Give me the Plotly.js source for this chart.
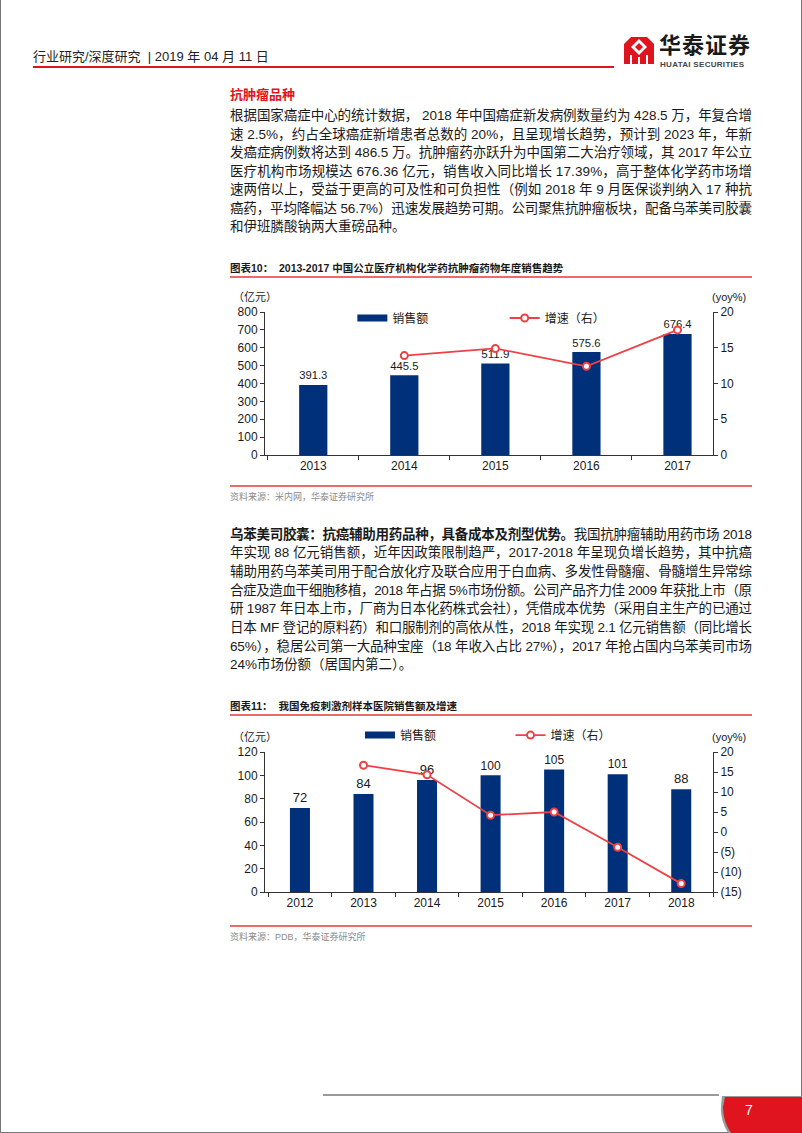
<!DOCTYPE html>
<html><head><meta charset="utf-8">
<script src="https://cdn.plot.ly/plotly-3.0.1.min.js"></script>
<style>
html,body{margin:0;padding:0;background:#fff;}
#page{position:relative;width:802px;height:1133px;overflow:hidden;font-family:"Liberation Sans","Noto Sans CJK SC",sans-serif;color:#1a1a1a;}
.abs{position:absolute;white-space:nowrap;}
.ln{position:absolute;left:230px;font-size:13.5px;height:19px;line-height:19px;white-space:nowrap;display:inline-block;}
.ctitle{position:absolute;left:230px;font-size:10.5px;font-weight:bold;white-space:nowrap;line-height:14px;}
.rl{position:absolute;left:230px;width:522px;height:2px;background:#EC6A6A;}
.src{position:absolute;left:230px;font-size:9px;color:#8a8a8a;white-space:nowrap;line-height:12px;}
.chart{position:absolute;left:200px;width:580px;height:210px;}
</style></head>
<body>
<div id="page">
  <!-- page frame -->
  <div class="abs" style="left:0;top:0;width:1px;height:1133px;background:#777;"></div>
  <div class="abs" style="left:801px;top:0;width:1px;height:1133px;background:#777;"></div>
  <div class="abs" style="left:0;top:1132px;width:802px;height:1px;background:#777;"></div>

  <!-- header -->
  <div class="abs" style="left:33px;top:49px;font-size:13px;line-height:16px;color:#222;">行业研究/深度研究 &nbsp;| 2019 年 04 月 11 日</div>
  <div class="abs" style="left:33px;top:66px;width:581px;height:2px;background:#E0141E;"></div>
  <svg class="abs" style="left:622px;top:36px;" width="36" height="30" viewBox="0 0 36 30">
    <rect x="2" y="1" width="30" height="27" fill="#E0141E"/>
    <polygon points="17,3 25,11 17,19 9,11" fill="#fff"/>
    <polygon points="17,7 21,11 17,15 13,11" fill="#E0141E"/>
    <polygon points="2,1 9,1 2,8" fill="#fff"/>
    <polygon points="32,1 25,1 32,8" fill="#fff"/>
    <rect x="8" y="19" width="2" height="9" fill="#fff"/>
    <rect x="16" y="21" width="2" height="7" fill="#fff"/>
    <rect x="24" y="19" width="2" height="9" fill="#fff"/>
  </svg>
  <div class="abs" style="left:659px;top:33px;font-size:22px;font-weight:bold;line-height:26px;color:#1a1a1a;letter-spacing:1px;">华泰证券</div>
  <div class="abs" style="left:660px;top:60px;font-size:8px;font-weight:bold;line-height:10px;color:#444;letter-spacing:0.3px;">HUATAI SECURITIES</div>

  <!-- section 1 -->
  <div class="abs" style="left:230px;top:87px;font-size:13px;font-weight:bold;line-height:16px;color:#E0141E;">抗肿瘤品种</div>
  <div class="ln j" style="top:106px;">根据国家癌症中心的统计数据， 2018 年中国癌症新发病例数量约为 428.5 万，年复合增</div>
  <div class="ln j" style="top:124.5px;">速 2.5%，约占全球癌症新增患者总数的 20%，且呈现增长趋势，预计到 2023 年，年新</div>
  <div class="ln j" style="top:143px;">发癌症病例数将达到 486.5 万。抗肿瘤药亦跃升为中国第二大治疗领域，其 2017 年公立</div>
  <div class="ln j" style="top:161.5px;">医疗机构市场规模达 676.36 亿元，销售收入同比增长 17.39%，高于整体化学药市场增</div>
  <div class="ln j" style="top:180px;">速两倍以上，受益于更高的可及性和可负担性（例如 2018 年 9 月医保谈判纳入 17 种抗</div>
  <div class="ln j" style="top:198.5px;">癌药，平均降幅达 56.7%）迅速发展趋势可期。公司聚焦抗肿瘤板块，配备乌苯美司胶囊</div>
  <div class="ln" style="top:217px;">和伊班膦酸钠两大重磅品种。</div>

  <div class="ctitle" style="top:261px;">图表10：&nbsp;&nbsp;2013-2017 中国公立医疗机构化学药抗肿瘤药物年度销售趋势</div>
  <div class="rl" style="top:276px;"></div>
  <div id="chart1" class="chart" style="top:280px;"></div>
  <div class="rl" style="top:485px;"></div>
  <div class="src" style="top:491px;">资料来源：米内网，华泰证券研究所</div>

  <!-- section 2 -->
  <div class="ln j" style="top:524.5px;"><b>乌苯美司胶囊：抗癌辅助用药品种，具备成本及剂型优势。</b>我国抗肿瘤辅助用药市场 2018</div>
  <div class="ln j" style="top:543.2px;">年实现 88 亿元销售额，近年因政策限制趋严，2017-2018 年呈现负增长趋势，其中抗癌</div>
  <div class="ln j" style="top:561.9px;">辅助用药乌苯美司用于配合放化疗及联合应用于白血病、多发性骨髓瘤、骨髓增生异常综</div>
  <div class="ln j" style="top:580.6px;">合症及造血干细胞移植，2018 年占据 5%市场份额。公司产品齐力佳 2009 年获批上市（原</div>
  <div class="ln j" style="top:599.3px;">研 1987 年日本上市，厂商为日本化药株式会社），凭借成本优势（采用自主生产的已通过</div>
  <div class="ln j" style="top:618.0px;">日本 MF 登记的原料药）和口服制剂的高依从性，2018 年实现 2.1 亿元销售额（同比增长</div>
  <div class="ln j" style="top:636.7px;">65%），稳居公司第一大品种宝座（18 年收入占比 27%），2017 年抢占国内乌苯美司市场</div>
  <div class="ln" style="top:655.4px;">24%市场份额（居国内第二）。</div>

  <div class="ctitle" style="top:699px;">图表11：&nbsp;&nbsp;我国免疫刺激剂样本医院销售额及增速</div>
  <div class="rl" style="top:714px;"></div>
  <div id="chart2" class="chart" style="top:720px;"></div>
  <div class="rl" style="top:925px;"></div>
  <div class="src" style="top:931px;">资料来源：PDB，华泰证券研究所</div>

  <!-- footer -->
  <div class="abs" style="left:323px;top:1094px;width:396px;height:2px;background:#9a9a9a;"></div>
  <svg class="abs" style="left:712px;top:1094px;" width="90" height="39" viewBox="0 0 90 39">
    <path d="M10,2 L90,2 L90,39 L16,39 Q8,26 9,12 Z" fill="#9a9a9a"/>
    <path d="M13,3 L90,3 L90,39 L19,39 Q11,27 11,13 Z" fill="#E0141E"/>
  </svg>
  <div class="abs" style="left:745px;top:1102px;font-size:14px;line-height:16px;color:#fff;">7</div>
</div>

<script>
// ---------- data ----------
const years1 = ['2013', '2014', '2015', '2016', '2017'];
const sales1 = [391.3, 445.5, 511.9, 575.6, 676.4];
const growth1 = [null, 13.9, 14.9, 12.4, 17.5];

const years2 = ['2012', '2013', '2014', '2015', '2016', '2017', '2018'];
const sales2 = [72, 84, 96, 100, 105, 101, 88];
const growth2 = [null, 16.7, 14.3, 4.2, 5.0, -3.8, -12.9];

const leftTicks1 = [0, 100, 200, 300, 400, 500, 600, 700, 800];
const rightTicks1 = [0, 5, 10, 15, 20];
const leftTicks2 = [0, 20, 40, 60, 80, 100, 120];
const rightTicks2 = [-15, -10, -5, 0, 5, 10, 15, 20];
const rightTickText2 = ['(15)', '(10)', '(5)', '0', '5', '10', '15', '20'];

const seriesBar = '销售额';
const seriesLine = '增速（右）';
const unitLeft = '（亿元）';
const unitRight = '(yoy%)';

// ---------- justify text lines ----------
document.querySelectorAll('.j').forEach(el => {
  const target = 522;
  const w = el.getBoundingClientRect().width;
  const n = el.textContent.length;
  const ls = (target - w) / (n - 1);
  el.style.letterSpacing = ls + 'px';
});

// ---------- charts ----------
const NAVY = '#00307A';
const RED = '#EE4046';
const FONT = '"Liberation Sans", "Noto Sans CJK SC", sans-serif';
const AX = '#333';

function makeChart(id, cats, sales, growth, opt) {
  const traces = [
    {type: 'bar', x: cats, y: sales, width: opt.barWidth,
     marker: {color: NAVY}, text: sales.map(opt.fmt), textposition: 'outside',
     textfont: {size: 13, color: '#1a1a1a'}, cliponaxis: false,
     showlegend: false, hoverinfo: 'skip'},
    {type: 'scatter', x: [null], y: [null], mode: 'lines', name: seriesBar,
     line: {color: NAVY, width: 7}, legend: 'legend', hoverinfo: 'skip'},
    {type: 'scatter', x: cats, y: growth, yaxis: 'y2', mode: 'lines+markers',
     name: seriesLine, line: {color: RED, width: 1.8},
     marker: {size: 7, color: '#fff', line: {color: RED, width: 2}},
     legend: 'legend2', cliponaxis: false}
  ];
  const common = {ticks: 'outside', ticklen: 4, tickcolor: AX, showline: true,
    linecolor: AX, linewidth: 1, showgrid: false, zeroline: false,
    tickfont: {size: 12, color: '#1a1a1a'}, fixedrange: true};
  const leg = {orientation: 'h', xanchor: 'left', yanchor: 'middle',
    bgcolor: 'rgba(0,0,0,0)', font: {size: 12, color: '#1a1a1a'}, itemwidth: 30};
  const layout = {
    width: 580, height: 210,
    margin: {l: 65, r: 67, t: 32, b: opt.mb, pad: 0, autoexpand: false},
    paper_bgcolor: 'rgba(0,0,0,0)', plot_bgcolor: 'rgba(0,0,0,0)',
    font: {family: FONT, size: 12, color: '#1a1a1a'},
    xaxis: Object.assign({}, common, {type: 'category', range: opt.xr, tickson: 'boundaries'}),
    yaxis: Object.assign({}, common, {range: opt.yr, tickvals: opt.lt}),
    yaxis2: Object.assign({}, common, {range: opt.y2r, tickvals: opt.rt, ticktext: opt.rtt,
      overlaying: 'y', side: 'right'}),
    legend: Object.assign({}, leg, {x: opt.lg1x, y: opt.lgy}),
    legend2: Object.assign({}, leg, {x: opt.lg2x, y: opt.lgy}),
    annotations: [
      {xref: 'paper', yref: 'paper', x: -0.022, y: opt.uy, text: unitLeft, showarrow: false,
       font: {size: 11, color: '#1a1a1a'}, xanchor: 'center', yanchor: 'middle'},
      {xref: 'paper', yref: 'paper', x: 1.036, y: opt.uy, text: unitRight, showarrow: false,
       font: {size: 11, color: '#1a1a1a'}, xanchor: 'center', yanchor: 'middle'}
    ],
    showlegend: true
  };
  Plotly.newPlot(id, traces, layout, {staticPlot: true, displayModeBar: false});
}

makeChart('chart1', years1, sales1, growth1, {
  barWidth: 0.31, fmt: v => v.toFixed(1), mb: 35,
  xr: [-0.53, 4.39], yr: [0, 800], lt: leftTicks1, y2r: [0, 20], rt: rightTicks1,
  rtt: rightTicks1.map(String), lg1x: 0.195, lg2x: 0.535, lgy: 0.958, uy: 1.105
});
makeChart('chart2', years2, sales2, growth2, {
  barWidth: 0.315, fmt: v => String(v), mb: 38,
  xr: [-0.55, 6.5], yr: [0, 120], lt: leftTicks2, y2r: [-15, 20], rt: rightTicks2,
  rtt: rightTickText2, lg1x: 0.212, lg2x: 0.548, lgy: 1.121, uy: 1.107
});
</script>
</body></html>
